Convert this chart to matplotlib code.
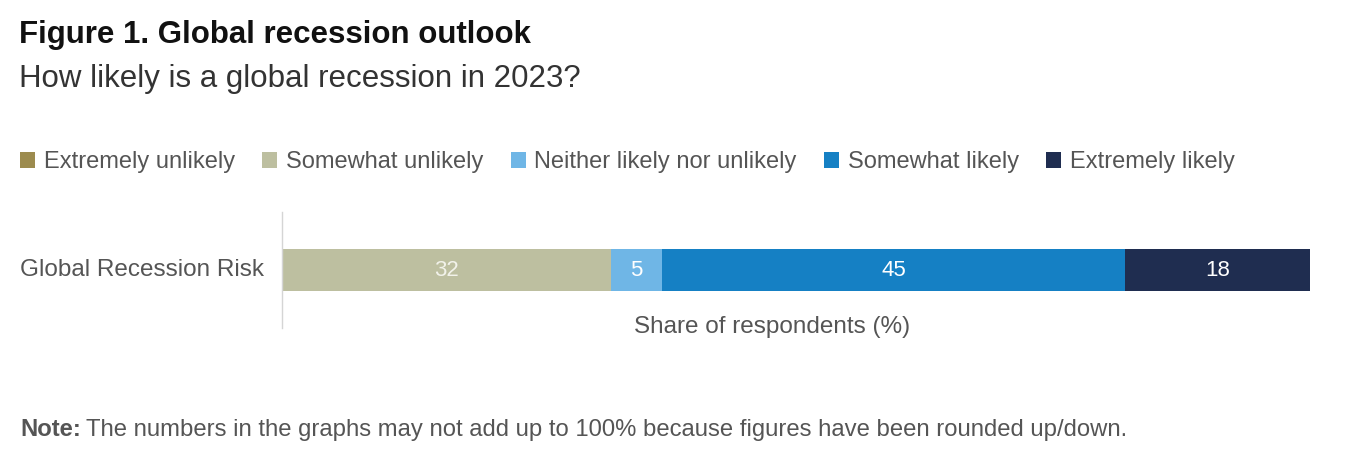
import matplotlib.pyplot as plt

plt.rcParams['font.family'] = ['Liberation Sans', 'DejaVu Sans']

categories = ['Extremely unlikely', 'Somewhat unlikely', 'Neither likely nor unlikely',
              'Somewhat likely', 'Extremely likely']
values = [0, 32, 5, 45, 18]
colors = ['#9C8B4E', '#BDBFA0', '#6FB6E6', '#1580C4', '#1F2D50']
label_colors = ['white', '#F2F2EA', 'white', 'white', 'white']
row_label = 'Global Recession Risk'

fig = plt.figure(figsize=(13.53, 4.53), dpi=100)
ax = fig.add_axes([282/1353, 1-328/453, 1028/1353, 116/453])

left = 0
for cat, v, c, lc in zip(categories, values, colors, label_colors):
    ax.barh(0, v, left=left, height=0.37, color=c, label=cat)
    if v > 0:
        ax.text(left + v/2, 0, str(v), ha='center', va='center', color=lc, fontsize=16)
    left += v

ax.set_xlim(0, sum(values))
ax.set_ylim(-0.5, 0.5)
ax.set_xticks([])
ax.set_yticks([])
for s in ['top', 'right', 'bottom']:
    ax.spines[s].set_visible(False)
ax.spines['left'].set_color('#D5D5D5')
ax.spines['left'].set_linewidth(1)

fig.text(20/1353, 1-270/453, row_label, ha='left', va='center', fontsize=17.5, color='#555555')
fig.text(772/1353, 1-327/453, 'Share of respondents (%)', ha='center', va='center',
         fontsize=17.5, color='#555555')

fig.text(19/1353, 1-35/453, 'Figure 1. Global recession outlook', ha='left', va='center',
         fontsize=22.5, fontweight='bold', color='#111111')
fig.text(19/1353, 1-79/453, 'How likely is a global recession in 2023?', ha='left', va='center',
         fontsize=22.5, color='#333333')

fig.legend(loc='center left', bbox_to_anchor=(-1/1353, 1-162/453), ncol=5, frameon=False,
           fontsize=17, handlelength=0.64, handleheight=0.64, handletextpad=0.35,
           columnspacing=1.17, labelcolor='#555555')

note = fig.text(20/1353, 1-430/453, 'Note:', ha='left', va='center', fontsize=17.2,
                fontweight='bold', color='#555555')
r = fig.canvas.get_renderer()
bb = note.get_window_extent(renderer=r)
fig.text((bb.x1 + 5)/1353, 1-430/453,
         'The numbers in the graphs may not add up to 100% because figures have been rounded up/down.',
         ha='left', va='center', fontsize=17.2, color='#555555')

fig.savefig('out.png', dpi=100, facecolor='white')
